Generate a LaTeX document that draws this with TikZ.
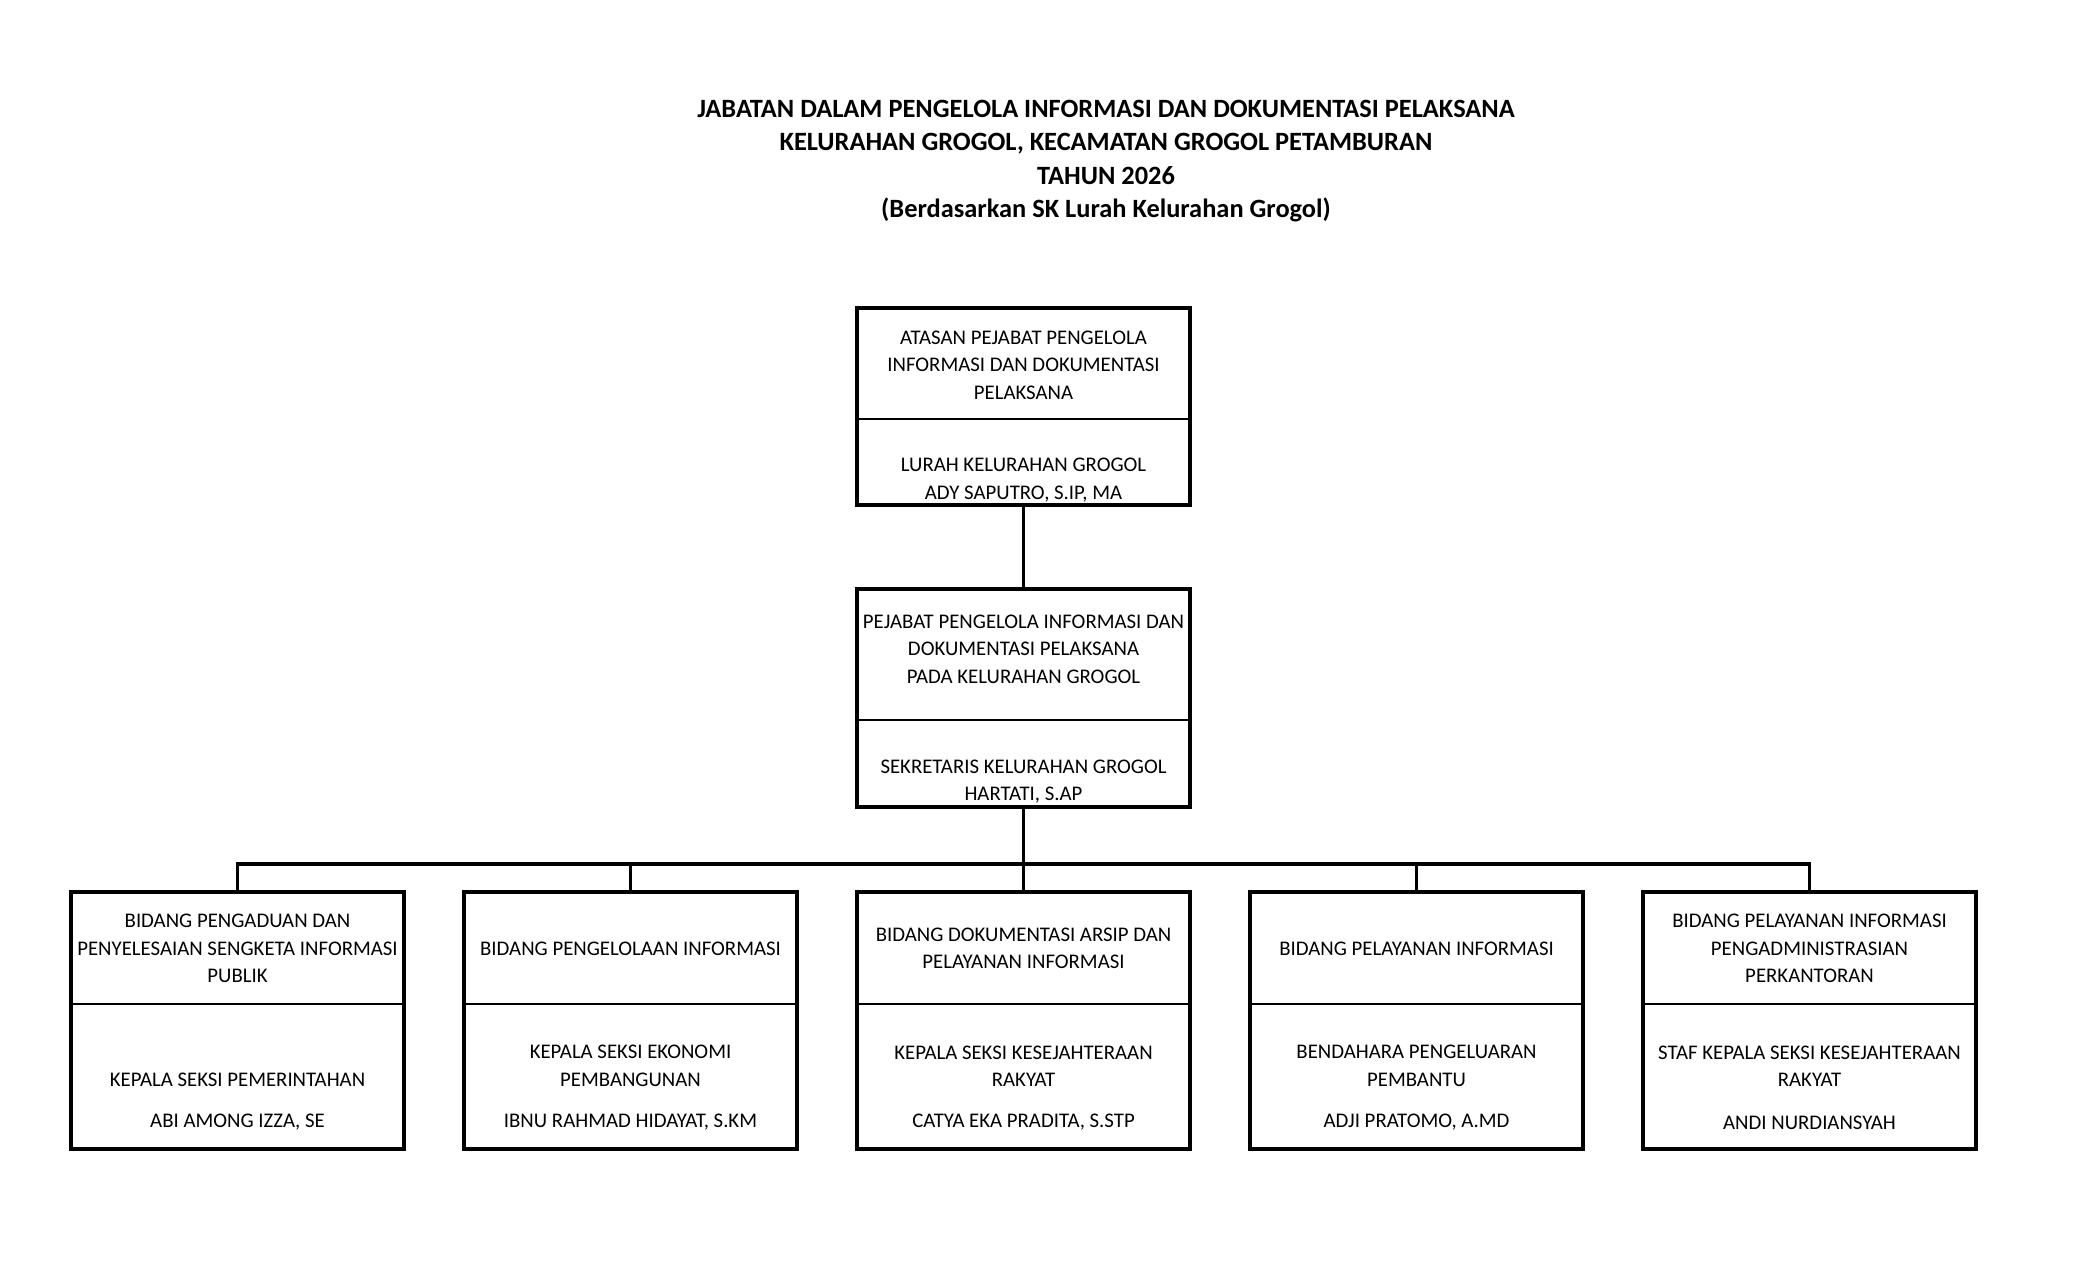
\documentclass[tikz,border=0pt]{standalone}
\usepackage{fontspec}
\setmainfont{Carlito}
\begin{document}
\begin{tikzpicture}[x=0.5pt,y=-0.5pt,
  box/.style={draw, line width=1.6pt, outer sep=0pt, inner sep=0pt, minimum width=166.5pt, anchor=north},
  div/.style={line width=0.75pt},
  conn/.style={line width=1.6pt},
  txt/.style={align=center, inner sep=0pt, font=\fontsize{10.4pt}{13.75pt}\selectfont},
  ttl/.style={align=center, inner sep=0pt, font=\bfseries\fontsize{13.2pt}{16.75pt}\selectfont}]
\useasboundingbox (0,0) rectangle (2100,1275);

% title
\node[ttl] (title) at (1106,161) {JABATAN DALAM PENGELOLA INFORMASI DAN DOKUMENTASI PELAKSANA\\
KELURAHAN GROGOL, KECAMATAN GROGOL PETAMBURAN\\
TAHUN 2026\\
(Berdasarkan SK Lurah Kelurahan Grogol)};

% top boxes
\node[box, minimum height=98.5pt] (atasan) at (1023.5,308) {};
\draw[div] ([yshift=-55.5pt]atasan.north west) -- ([yshift=-55.5pt]atasan.north east);
\node[box, minimum height=109pt] (pejabat) at (1023.5,589) {};
\draw[div] ([yshift=-65.5pt]pejabat.north west) -- ([yshift=-65.5pt]pejabat.north east);

\node[txt] (atasanA) at (1023.5,365) {ATASAN PEJABAT PENGELOLA\\INFORMASI DAN DOKUMENTASI\\PELAKSANA};
\node[txt] (atasanB) at (1023.5,480) {LURAH KELURAHAN GROGOL\\ADY SAPUTRO, S.IP, MA};
\node[txt] (pejabatA) at (1023.5,649) {PEJABAT PENGELOLA INFORMASI DAN\\DOKUMENTASI PELAKSANA\\PADA KELURAHAN GROGOL};
\node[txt] (pejabatB) at (1023.5,781.5) {SEKRETARIS KELURAHAN GROGOL\\HARTATI, S.AP};

% bottom boxes
\foreach \i/\x in {1/237.5,2/630.5,3/1023.5,4/1416.5,5/1809.5}{
  \node[box, minimum height=128.5pt] (b\i) at (\x,892) {};
  \draw[div] ([yshift=-56pt]b\i.north west) -- ([yshift=-56pt]b\i.north east);
}

\node[txt] (b1A) at (237.5,948.5) {BIDANG PENGADUAN DAN\\PENYELESAIAN SENGKETA INFORMASI\\PUBLIK};
\node[txt] (b1B) at (237.5,1079.5) {KEPALA SEKSI PEMERINTAHAN};
\node[txt] (b1C) at (237.5,1122.5) {ABI AMONG IZZA, SE};

\node[txt] (b2A) at (630.5,948.5) {BIDANG PENGELOLAAN INFORMASI};
\node[txt] (b2B) at (630.5,1066) {KEPALA SEKSI EKONOMI\\PEMBANGUNAN};
\node[txt] (b2C) at (630.5,1122.5) {IBNU RAHMAD HIDAYAT, S.KM};

\node[txt] (b3A) at (1023.5,948.5) {BIDANG DOKUMENTASI ARSIP DAN\\PELAYANAN INFORMASI};
\node[txt] (b3B) at (1023.5,1066) {KEPALA SEKSI KESEJAHTERAAN\\RAKYAT};
\node[txt] (b3C) at (1023.5,1122.5) {CATYA EKA PRADITA, S.STP};

\node[txt] (b4A) at (1416.5,948.5) {BIDANG PELAYANAN INFORMASI};
\node[txt] (b4B) at (1416.5,1066) {BENDAHARA PENGELUARAN\\PEMBANTU};
\node[txt] (b4C) at (1416.5,1122.5) {ADJI PRATOMO, A.MD};

\node[txt] (b5A) at (1809.5,948.5) {BIDANG PELAYANAN INFORMASI\\PENGADMINISTRASIAN\\PERKANTORAN};
\node[txt] (b5B) at (1809.5,1066) {STAF KEPALA SEKSI KESEJAHTERAAN\\RAKYAT};
\node[txt] (b5C) at (1809.5,1122.5) {ANDI NURDIANSYAH};

% connectors
\coordinate (bus) at (1023.5,864);
\draw[conn] (atasan.south) -- (pejabat.north);
\draw[conn] (pejabat.south) -- (bus);
\foreach \i in {1,...,5}{
  \draw[conn] (b\i.north) |- (bus);
}
\end{tikzpicture}
\end{document}
